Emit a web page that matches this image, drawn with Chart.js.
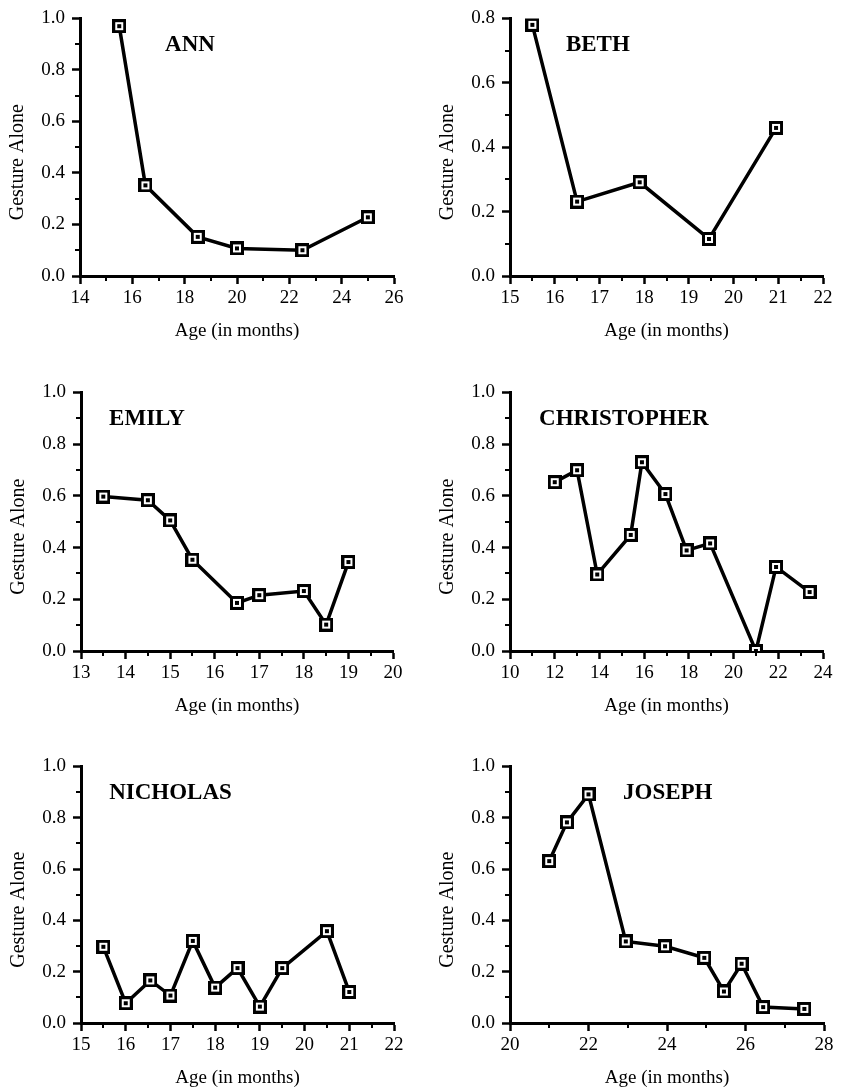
<!DOCTYPE html>
<html>
<head>
<meta charset="utf-8">
<script src="https://cdn.jsdelivr.net/npm/chart.js@4.4.1/dist/chart.umd.min.js"></script>
<style>
  html, body { margin: 0; padding: 0; background: #fff; }
  #page { position: relative; width: 842px; height: 1089px; overflow: hidden; background: #fff; }
  #page canvas { position: absolute; }
</style>
</head>
<body>
<div id="page"></div>
<script>
// Proportion of "gesture alone" utterances by age (months), one pair per child
const annAge = [15.5, 16.5, 18.5, 20, 22.5, 25];
const annVal = [0.97, 0.352, 0.152, 0.107, 0.10, 0.228];

const bethAge = [15.5, 16.5, 17.9, 19.45, 20.95];
const bethVal = [0.78, 0.231, 0.291, 0.115, 0.46];

const emilyAge = [13.5, 14.5, 15, 15.5, 16.5, 17, 18, 18.5, 19];
const emilyVal = [0.597, 0.583, 0.505, 0.353, 0.186, 0.216, 0.232, 0.102, 0.344];

const chrisAge = [12, 13, 13.9, 15.4, 15.9, 16.95, 17.9, 18.95, 21, 21.9, 23.4];
const chrisVal = [0.653, 0.699, 0.296, 0.449, 0.73, 0.607, 0.389, 0.416, 0.0, 0.325, 0.228];

const nickAge = [15.5, 16, 16.55, 17, 17.5, 18, 18.5, 19, 19.5, 20.5, 21];
const nickVal = [0.297, 0.077, 0.166, 0.107, 0.32, 0.138, 0.214, 0.064, 0.214, 0.358, 0.121];

const josephAge = [21, 21.45, 22, 22.95, 23.95, 24.95, 25.45, 25.9, 26.45, 27.5];
const josephVal = [0.631, 0.782, 0.891, 0.318, 0.299, 0.254, 0.123, 0.231, 0.062, 0.055];

// axis ranges and tick steps
const panels = [
  { name: 'ANN', age: annAge, val: annVal, xMin: 14, xMax: 26, xMajor: 2, xMinor: 1, yMax: 1.0 },
  { name: 'BETH', age: bethAge, val: bethVal, xMin: 15, xMax: 22, xMajor: 1, xMinor: 0.5, yMax: 0.8 },
  { name: 'EMILY', age: emilyAge, val: emilyVal, xMin: 13, xMax: 20, xMajor: 1, xMinor: 0.5, yMax: 1.0 },
  { name: 'CHRISTOPHER', age: chrisAge, val: chrisVal, xMin: 10, xMax: 24, xMajor: 2, xMinor: 1, yMax: 1.0 },
  { name: 'NICHOLAS', age: nickAge, val: nickVal, xMin: 15, xMax: 22, xMajor: 1, xMinor: 0.5, yMax: 1.0 },
  { name: 'JOSEPH', age: josephAge, val: josephVal, xMin: 20, xMax: 28, xMajor: 2, xMinor: 1, yMax: 1.0 }
];

// where each plot area sits on the page (px) and where the name goes (data units)
const layout = [
  { left: 80, top: 15, right: 394, bottom: 276, nameX: 17.25, nameY: 0.897 },
  { left: 510, top: 15, right: 823, bottom: 276, nameX: 16.25, nameY: 0.717 },
  { left: 81, top: 389, right: 393, bottom: 651, nameX: 13.63, nameY: 0.897 },
  { left: 510, top: 389, right: 823, bottom: 651, nameX: 11.3, nameY: 0.897 },
  { left: 81, top: 763, right: 394, bottom: 1023, nameX: 15.63, nameY: 0.896 },
  { left: 510, top: 763, right: 824, bottom: 1023, nameX: 22.88, nameY: 0.896 }
];

const Y_AXIS_W = 80;
const X_AXIS_H = 66;
const PAD_TOP = 15;
const SERIF = "'Liberation Serif', 'Times New Roman', serif";

Chart.defaults.color = '#000';
Chart.defaults.font.family = SERIF;

function isMajor(v, step) {
  const r = v / step;
  return Math.abs(r - Math.round(r)) < 1e-6;
}

// square marker with a dot in the middle
function makeMarker() {
  const c = document.createElement('canvas');
  c.width = 14;
  c.height = 14;
  const g = c.getContext('2d');
  g.fillStyle = '#fff';
  g.fillRect(0, 0, 14, 14);
  g.strokeStyle = '#000';
  g.lineWidth = 3;
  g.strokeRect(1.5, 1.5, 11, 11);
  g.fillStyle = '#000';
  g.fillRect(5, 5, 4, 4);
  return c;
}
const marker = makeMarker();

// short ticks between the labelled ones
const minorTicks = {
  id: 'minorTicks',
  afterDraw(chart, args, opts) {
    const ctx = chart.ctx;
    const xs = chart.scales.x;
    const ys = chart.scales.y;
    ctx.save();
    ctx.strokeStyle = '#000';
    ctx.lineWidth = 2;
    ctx.beginPath();
    xs.ticks.forEach(t => {
      if (isMajor(t.value, opts.xMajor)) return;
      const px = Math.round(xs.getPixelForValue(t.value));
      ctx.moveTo(px, xs.top);
      ctx.lineTo(px, xs.top + 5);
    });
    ys.ticks.forEach(t => {
      if (isMajor(t.value, 0.2)) return;
      const py = Math.round(ys.getPixelForValue(t.value));
      ctx.moveTo(ys.right, py);
      ctx.lineTo(ys.right - 5, py);
    });
    ctx.stroke();
    ctx.restore();
  }
};

// child's name inside the plot, and the y title (sits a bit below centre)
const panelText = {
  id: 'panelText',
  afterDatasetsDraw(chart, args, opts) {
    const ctx = chart.ctx;
    const area = chart.chartArea;
    ctx.save();
    ctx.fillStyle = '#000';
    ctx.font = 'bold 23px ' + SERIF;
    ctx.textAlign = 'left';
    ctx.textBaseline = 'middle';
    ctx.fillText(opts.text,
      chart.scales.x.getPixelForValue(opts.x),
      chart.scales.y.getPixelForValue(opts.y));

    ctx.translate(area.left - 62, (area.top + area.bottom) / 2 + 15);
    ctx.rotate(-Math.PI / 2);
    ctx.font = '20px ' + SERIF;
    ctx.textAlign = 'center';
    ctx.fillText('Gesture Alone', 0, 0);
    ctx.restore();
  }
};

const page = document.getElementById('page');

panels.forEach((p, i) => {
  const L = layout[i];
  const padRight = L.right < 421 ? 20 : 842 - L.right;
  const canvas = document.createElement('canvas');
  canvas.width = (L.right - L.left) + Y_AXIS_W + padRight;
  canvas.height = PAD_TOP + (L.bottom - L.top) + X_AXIS_H;
  canvas.style.left = (L.left - Y_AXIS_W) + 'px';
  canvas.style.top = (L.top - PAD_TOP) + 'px';
  page.appendChild(canvas);

  const points = p.age.map((a, k) => ({ x: a, y: p.val[k] }));

  new Chart(canvas.getContext('2d'), {
    type: 'scatter',
    data: {
      datasets: [{
        data: points,
        showLine: true,
        borderColor: '#000',
        borderWidth: 3.5,
        pointStyle: marker,
        pointRadius: 7,
        pointHoverRadius: 7
      }]
    },
    options: {
      responsive: false,
      animation: false,
      devicePixelRatio: 1,
      events: [],
      layout: { padding: { top: PAD_TOP, right: padRight, bottom: 0, left: 0 } },
      plugins: {
        legend: { display: false },
        tooltip: { enabled: false },
        minorTicks: { xMajor: p.xMajor },
        panelText: { text: p.name, x: L.nameX, y: L.nameY }
      },
      scales: {
        x: {
          type: 'linear',
          min: p.xMin,
          max: p.xMax,
          afterFit: s => { s.height = X_AXIS_H; },
          border: { display: true, color: '#000', width: 3 },
          grid: {
            drawOnChartArea: false,
            tickLength: 8,
            tickWidth: 2.5,
            tickColor: c => (c.tick && isMajor(c.tick.value, p.xMajor)) ? '#000' : 'rgba(0,0,0,0)'
          },
          ticks: {
            stepSize: p.xMinor,
            autoSkip: false,
            maxRotation: 0,
            padding: 3,
            font: { size: 19, family: SERIF },
            callback: v => isMajor(v, p.xMajor) ? String(Math.round(v)) : ''
          },
          title: {
            display: true,
            text: 'Age (in months)',
            font: { size: 19, family: SERIF },
            padding: { top: 0, bottom: 0 }
          }
        },
        y: {
          min: 0,
          max: p.yMax,
          afterFit: s => { s.width = Y_AXIS_W; },
          border: { display: true, color: '#000', width: 3 },
          grid: {
            drawOnChartArea: false,
            tickLength: 8,
            tickWidth: 2.5,
            tickColor: c => (c.tick && isMajor(c.tick.value, 0.2)) ? '#000' : 'rgba(0,0,0,0)'
          },
          ticks: {
            stepSize: 0.1,
            autoSkip: false,
            padding: 7,
            font: { size: 19, family: SERIF },
            callback: v => isMajor(v, 0.2) ? v.toFixed(1) : ''
          }
        }
      }
    },
    plugins: [minorTicks, panelText]
  });
});
</script>
</body>
</html>
